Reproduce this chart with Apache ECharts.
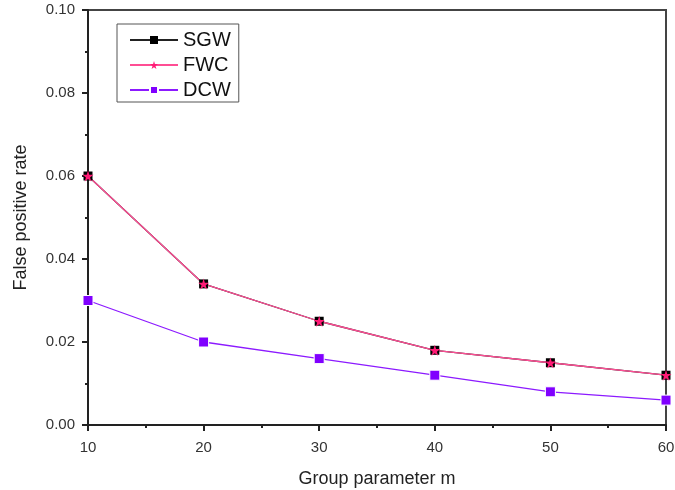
<!DOCTYPE html>
<html>
<head>
<meta charset="utf-8">
<script src="https://cdn.jsdelivr.net/npm/echarts@6/dist/echarts.min.js"></script>
<style>
  html, body { margin: 0; padding: 0; background: #fff; }
  #main { width: 675px; height: 490px; }
</style>
</head>
<body>
<div id="main"></div>
<script>
// 数据
var groupM = [10, 20, 30, 40, 50, 60];
var sgw = [0.060, 0.034, 0.025, 0.018, 0.015, 0.012];
var fwc = [0.060, 0.034, 0.025, 0.018, 0.015, 0.012];
var dcw = [0.030, 0.020, 0.016, 0.012, 0.008, 0.006];

function pairs(ys) {
  return groupM.map(function (x, i) { return [x, ys[i]]; });
}

var myChart = echarts.init(document.getElementById('main'));
var font = 'Liberation Sans, Arial, sans-serif';
var axisLine = { lineStyle: { color: '#222', width: 2 } };

var option = {
  backgroundColor: '#fff',
  animation: false,
  grid: {
    left: 88, right: 9, top: 10, bottom: 65,
    containLabel: false, outerBoundsMode: 'none',
    show: true, borderColor: '#444', borderWidth: 2
  },
  legend: {
    orient: 'vertical',
    left: 117, top: 24,
    itemWidth: 48, itemHeight: 10, itemGap: 5,
    padding: [6, 8, 2, 12],
    borderColor: '#555', borderWidth: 1,
    textStyle: { fontFamily: font, fontSize: 20, color: '#111' },
    data: ['SGW', 'FWC', 'DCW']
  },
  xAxis: {
    type: 'value',
    min: 10, max: 60, interval: 10,
    name: 'Group parameter m',
    nameLocation: 'middle', nameGap: 45,
    nameTextStyle: { fontFamily: font, fontSize: 18, color: '#222' },
    axisLine: axisLine,
    axisTick: { inside: false, length: 6, lineStyle: { color: '#222', width: 2 } },
    minorTick: { show: true, splitNumber: 2, length: 3, lineStyle: { color: '#222', width: 2 } },
    axisLabel: { fontFamily: font, fontSize: 15, color: '#333', margin: 15 },
    splitLine: { show: false }
  },
  yAxis: {
    type: 'value',
    min: 0, max: 0.1, interval: 0.02,
    name: 'False positive rate',
    nameLocation: 'middle', nameGap: 58,
    nameTextStyle: { fontFamily: font, fontSize: 18, color: '#222' },
    axisLine: axisLine,
    axisTick: { inside: false, length: 6, lineStyle: { color: '#222', width: 2 } },
    minorTick: { show: true, splitNumber: 2, length: 3, lineStyle: { color: '#222', width: 2 } },
    axisLabel: {
      fontFamily: font, fontSize: 15, color: '#333', margin: 13,
      formatter: function (v) { return v.toFixed(2); }
    },
    splitLine: { show: false }
  },
  series: [{
    name: 'SGW',
    type: 'line',
    data: pairs(sgw),
    symbol: 'rect', symbolSize: 9,
    itemStyle: { color: '#000' },
    lineStyle: { color: '#222', width: 1.3 }
  }, {
    name: 'FWC',
    type: 'line',
    data: pairs(fwc),
    symbol: 'path://M50,0 L61,35 L98,35 L68,57 L79,91 L50,70 L21,91 L32,57 L2,35 L39,35 Z',
    symbolSize: 11,
    itemStyle: { color: '#ff1a75' },
    lineStyle: { color: '#ff4d94', width: 1.3 }
  }, {
    name: 'DCW',
    type: 'line',
    data: pairs(dcw),
    symbol: 'rect', symbolSize: 10,
    itemStyle: { color: '#8000ff', borderColor: '#fff', borderWidth: 1 },
    lineStyle: { color: '#8c1aff', width: 1.3 }
  }]
};

myChart.setOption(option);
</script>
</body>
</html>
